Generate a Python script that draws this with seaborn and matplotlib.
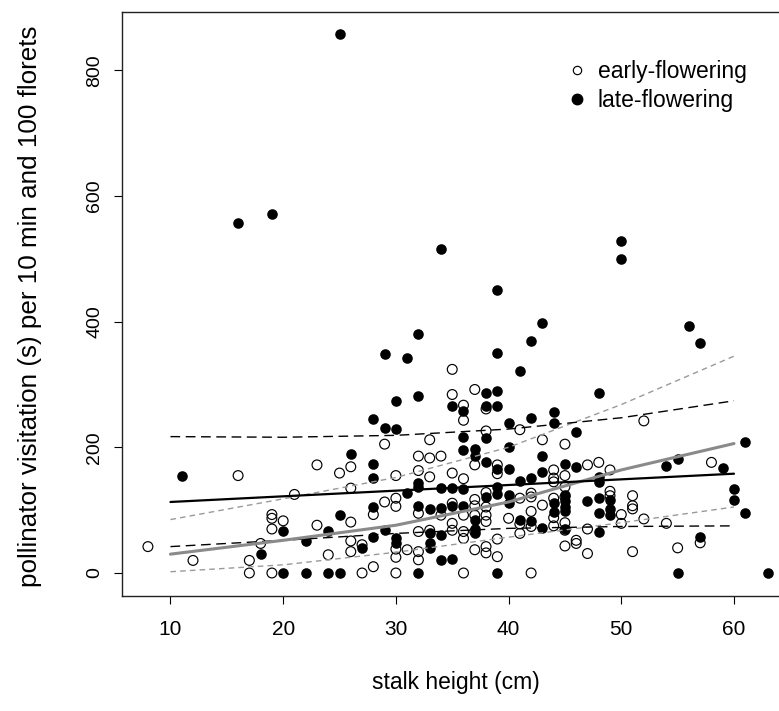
import matplotlib
matplotlib.use("Agg")
import matplotlib.pyplot as plt
from matplotlib.lines import Line2D
import pandas as pd
import seaborn as sns

# Early-flowering plants: stalk height (cm) and pollinator visitation
early_height = [8, 12, 16, 17, 17, 18, 19, 19, 19, 19, 20, 21, 23, 23, 24, 25,
                26, 26, 26, 26, 26, 27, 27, 28, 28, 29, 29,
                30, 30, 30, 30, 30, 30, 31, 32, 32, 32, 32, 32, 32,
                33, 33, 33, 33, 34, 34, 35, 35, 35, 35, 35, 35,
                36, 36, 36, 36, 36, 36, 36, 37, 37, 37, 37, 37, 37, 37,
                38, 38, 38, 38, 38, 38, 38, 38, 39, 39, 39, 39, 40,
                41, 41, 41, 41, 42, 42, 42, 42, 42, 43, 43,
                44, 44, 44, 44, 44, 44, 45, 45, 45, 45, 45, 45, 45,
                46, 46, 47, 47, 47, 48, 49, 49, 49, 50, 50, 51, 51, 51, 51,
                52, 52, 54, 55, 57, 58]
early_visits = [42, 20, 155, 20, 0, 47, 93, 87, 70, 0, 83, 125, 172, 76, 29, 159,
                169, 135, 81, 51, 34, 45, 0, 93, 10, 205, 113,
                155, 119, 106, 38, 25, 0, 37, 186, 163, 95, 66, 34, 21,
                212, 183, 153, 68, 186, 92, 324, 284, 159, 111, 79, 68,
                267, 243, 150, 92, 66, 55, 0, 292, 172, 117, 107, 92, 66, 37,
                261, 226, 128, 105, 92, 82, 42, 32, 172, 158, 54, 26, 87,
                228, 119, 78, 63, 127, 121, 98, 74, 0, 212, 108,
                164, 151, 145, 119, 88, 75, 205, 155, 137, 121, 80, 68, 43,
                52, 47, 172, 70, 31, 176, 164, 130, 123, 93, 79, 123, 107, 102, 34,
                242, 86, 79, 40, 48, 176]

# Late-flowering plants
late_height = [11, 16, 18, 19, 20, 20, 22, 22, 24, 24, 25, 25, 25, 26, 27,
               28, 28, 28, 28, 28, 29, 29, 29, 30, 30, 30, 30, 31, 31,
               32, 32, 32, 32, 32, 32, 33, 33, 33, 33, 34, 34, 34, 34, 34,
               35, 35, 35, 35, 36, 36, 36, 36, 36, 37, 37, 37, 37, 37,
               38, 38, 38, 38, 38, 39, 39, 39, 39, 39, 39, 39, 39,
               40, 40, 40, 40, 40, 41, 41, 41, 42, 42, 42, 42, 43, 43, 43, 43,
               44, 44, 44, 44, 45, 45, 45, 45, 45, 45, 46, 46, 47,
               48, 48, 48, 48, 48, 48, 49, 49, 49, 50, 50,
               54, 55, 55, 56, 57, 57, 59, 60, 60, 61, 61, 63]
late_visits = [155, 557, 30, 571, 67, 0, 51, 0, 67, 0, 857, 92, 0, 190, 40,
               245, 173, 151, 105, 57, 348, 230, 68, 274, 229, 55, 47, 342, 128,
               381, 281, 143, 137, 107, 0, 102, 63, 47, 39, 515, 136, 103, 60, 21,
               266, 135, 107, 22, 257, 216, 196, 133, 107, 198, 186, 84, 70, 63,
               286, 266, 214, 176, 121, 451, 350, 290, 266, 165, 137, 126, 0,
               238, 201, 165, 124, 111, 321, 147, 84, 369, 247, 151, 82, 397, 186, 160, 71,
               256, 238, 111, 97, 173, 124, 115, 105, 98, 70, 224, 169, 114,
               286, 153, 144, 119, 95, 66, 116, 102, 93, 529, 500,
               171, 181, 0, 393, 366, 57, 167, 134, 116, 209, 96, 0]

# Fitted relationships with confidence bands
fit_height = [10, 20, 30, 40, 50, 60]
early_fit = [30, 52, 76, 113, 164, 206]
early_lower = [2, 13, 33, 57, 80, 105]
early_upper = [85, 118, 152, 200, 268, 345]
late_fit = [113, 122, 131, 140, 149, 158]
late_lower = [42, 52, 63, 71, 74, 75]
late_upper = [217, 216, 219, 229, 247, 274]

x_ticks = [10, 20, 30, 40, 50, 60]
y_ticks = [0, 200, 400, 600, 800]

sns.set_theme(style="white")
plt.rcParams["font.family"] = ["Liberation Sans", "DejaVu Sans"]
for key in ("text.color", "axes.labelcolor", "xtick.color", "ytick.color"):
    plt.rcParams[key] = "black"

W, H = 779, 711
fig = plt.figure(figsize=(W / 100, H / 100), dpi=100)
left, right, top, bottom = 122, 792.6, 12, 596
ax = fig.add_axes([left / W, (H - bottom) / H, (right - left) / W, (bottom - top) / H])
ax.set_facecolor("white")

early = pd.DataFrame({"height": early_height, "visits": early_visits})
late = pd.DataFrame({"height": late_height, "visits": late_visits})

sns.scatterplot(data=early, x="height", y="visits", ax=ax, marker="o", s=50,
                facecolor="none", edgecolor="black", linewidth=0.85, zorder=2)
sns.scatterplot(data=late, x="height", y="visits", ax=ax, marker="o", s=58,
                color="black", edgecolor="black", linewidth=0, zorder=3)

fits = pd.DataFrame({"height": fit_height,
                     "early_fit": early_fit, "early_lower": early_lower, "early_upper": early_upper,
                     "late_fit": late_fit, "late_lower": late_lower, "late_upper": late_upper})

def band_line(col, color, lw, dashes=None):
    sns.lineplot(data=fits, x="height", y=col, ax=ax, color=color, linewidth=lw,
                 zorder=4, estimator=None, sort=True)
    line = ax.lines[-1]
    if dashes is not None:
        line.set_dashes(dashes)

band_line("early_lower", "#9a9a9a", 1.0, (4, 3))
band_line("early_upper", "#9a9a9a", 1.0, (4, 3))
band_line("late_lower", "black", 1.0, (7, 4))
band_line("late_upper", "black", 1.0, (7, 4))
band_line("early_fit", "#8a8a8a", 2.2)
band_line("late_fit", "black", 1.6)

ax.set_xlim(5.7, 65.2)
ax.set_ylim(-36.6, 892.6)
ax.set_xticks(x_ticks)
ax.set_yticks(y_ticks)
ax.set_xticklabels([str(v) for v in x_ticks], fontsize=15)
ax.set_yticklabels([str(v) for v in y_ticks], fontsize=14, rotation=90, va="center")
ax.tick_params(axis="both", direction="out", length=5.5, width=0.8, color="black",
               bottom=True, left=True, top=False, right=False)
ax.tick_params(axis="x", pad=12)
ax.tick_params(axis="y", pad=8)
for sp in ax.spines.values():
    sp.set_visible(True)
    sp.set_color("#222222")
    sp.set_linewidth(1.0)

ax.set_xlabel("stalk height (cm)", fontsize=16.5)
ax.set_ylabel("pollinator visitation (s) per 10 min and 100 florets", fontsize=18.7)
ax.xaxis.label.set_va("center")
ax.yaxis.label.set_va("center")
ax.xaxis.set_label_coords((456 - left) / (right - left), (bottom - 683) / (bottom - top))
ax.yaxis.set_label_coords((30 - left) / (right - left), (bottom - 306) / (bottom - top))

handles = [
    Line2D([], [], linestyle="none", marker="o", markersize=6, markerfacecolor="none",
           markeredgecolor="black", markeredgewidth=0.85),
    Line2D([], [], linestyle="none", marker="o", markersize=7.5, markerfacecolor="black",
           markeredgecolor="black"),
]
ax.legend(handles, ["early-flowering", "late-flowering"], loc="center left",
          bbox_to_anchor=((567 - left) / (right - left), (bottom - 86) / (bottom - top)),
          frameon=False, fontsize=16.5, handlelength=0.9, handletextpad=0.45,
          borderpad=0, borderaxespad=0, labelspacing=0.22)

fig.savefig("out.png", dpi=100, facecolor="white")
